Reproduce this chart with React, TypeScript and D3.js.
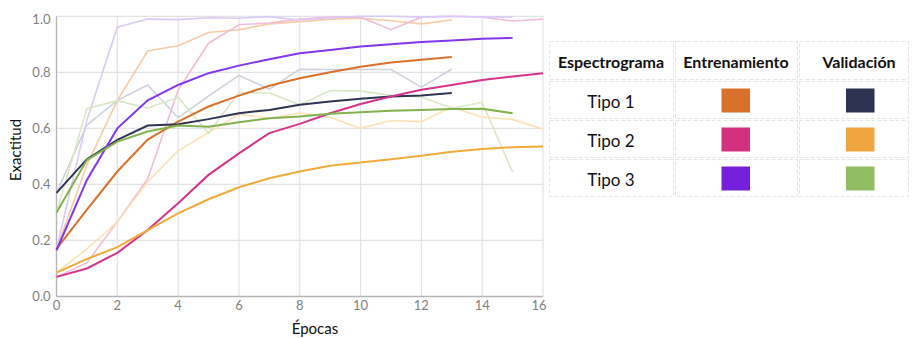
import * as d3 from "d3";

// ─── Data ────────────────────────────────────────────────────────────────

const xTicks = [0, 2, 4, 6, 8, 10, 12, 14, 16];
const yTicks = [0, 0.2, 0.4, 0.6, 0.8, 1.0];

const tipos = ["Tipo 1", "Tipo 2", "Tipo 3"];
const headers = ["Espectrograma", "Entrenamiento", "Validación"];

// smoothed curves
const trainT1 = [0.17, 0.31, 0.446, 0.56, 0.624, 0.678, 0.717, 0.752, 0.779, 0.8, 0.82, 0.835, 0.845, 0.855];
const valT1 = [0.37, 0.49, 0.559, 0.61, 0.615, 0.633, 0.654, 0.666, 0.684, 0.696, 0.706, 0.714, 0.717, 0.726];
const trainT2 = [0.07, 0.1, 0.156, 0.237, 0.333, 0.434, 0.511, 0.583, 0.616, 0.654, 0.687, 0.714, 0.738, 0.755, 0.773, 0.785, 0.797];
const valT2 = [0.085, 0.134, 0.176, 0.237, 0.297, 0.347, 0.39, 0.422, 0.446, 0.467, 0.478, 0.49, 0.502, 0.517, 0.526, 0.533, 0.535];
const trainT3 = [0.165, 0.416, 0.6, 0.7, 0.755, 0.797, 0.824, 0.847, 0.868, 0.88, 0.892, 0.9, 0.908, 0.914, 0.92, 0.923];
const valT3 = [0.3, 0.487, 0.553, 0.589, 0.61, 0.606, 0.622, 0.636, 0.642, 0.652, 0.658, 0.663, 0.666, 0.669, 0.67, 0.654];

// raw (faint) curves
const rawTrainT1 = [0.17, 0.47, 0.7, 0.876, 0.895, 0.942, 0.952, 0.973, 0.981, 0.99, 0.993, 0.984, 0.973, 0.987];
const rawValT1 = [0.37, 0.612, 0.7, 0.755, 0.638, 0.715, 0.789, 0.74, 0.811, 0.81, 0.81, 0.81, 0.747, 0.811];
const rawTrainT2 = [0.07, 0.12, 0.267, 0.42, 0.737, 0.904, 0.97, 0.976, 0.99, 0.997, 0.997, 0.952, 0.997, 1.0, 0.997, 0.983, 0.99];
const rawValT2 = [0.085, 0.17, 0.265, 0.41, 0.52, 0.585, 0.65, 0.636, 0.655, 0.64, 0.6, 0.628, 0.624, 0.676, 0.64, 0.632, 0.598];
const rawTrainT3 = [0.17, 0.63, 0.961, 0.99, 0.988, 0.995, 0.993, 0.999, 0.987, 0.995, 1.0, 1.0, 0.997, 1.0, 0.997, 0.998];
const rawValT3 = [0.3, 0.67, 0.699, 0.672, 0.711, 0.583, 0.728, 0.726, 0.684, 0.735, 0.733, 0.718, 0.712, 0.672, 0.693, 0.444];

const boldSeries = [
  { values: trainT1, color: "#DA702B" },
  { values: valT1, color: "#2E3451" },
  { values: trainT2, color: "#D6338A" },
  { values: valT2, color: "#F2AA3A" },
  { values: trainT3, color: "#8236EE" },
  { values: valT3, color: "#82B24E" },
];
const faintSeries = [
  { values: rawTrainT1, color: "#F7CBA6" },
  { values: rawValT1, color: "#CDD2DF" },
  { values: rawTrainT2, color: "#F1BEDA" },
  { values: rawValT2, color: "#FCE2B4" },
  { values: rawTrainT3, color: "#DACAF8" },
  { values: rawValT3, color: "#D9E8C6" },
];

const swatchTrain = ["#D9702C", "#D3317F", "#7420DA"];
const swatchVal = ["#2D3350", "#EFA63E", "#93BD63"];

// ─── Layout ──────────────────────────────────────────────────────────────

const W = 912;
const H = 338;
const plot = { left: 56.5, right: 543, top: 16.3, bottom: 296.5 };
const FONT = "Lato, 'Open Sans', sans-serif";

export default function App() {
  const x = d3.scaleLinear().domain([0, 16]).range([plot.left, plot.right]);
  const y = d3.scaleLinear().domain([0, 1]).range([plot.bottom, plot.top]);
  const line = d3
    .line<number>()
    .x((_, i) => x(i))
    .y((v) => y(v));

  // legend table geometry
  const colX = [549, 675, 799, 910];
  const rowY = [41, 81, 120, 159, 198];
  const gap = 2;

  return (
    <svg
      width={W}
      height={H}
      style={{ position: "absolute", left: 0, top: 0, background: "#fff" }}
      fontFamily={FONT}
    >
      {/* grid */}
      {xTicks.map((t) => (
        <line key={"gx" + t} x1={x(t)} x2={x(t)} y1={plot.top} y2={plot.bottom} stroke="#e3e3e3" strokeWidth={1.2} />
      ))}
      {yTicks.map((t) => (
        <line key={"gy" + t} x1={plot.left} x2={plot.right} y1={y(t)} y2={y(t)} stroke="#e3e3e3" strokeWidth={1.2} />
      ))}
      {/* axes */}
      <line x1={plot.left} x2={plot.left} y1={plot.top} y2={plot.bottom} stroke="#b5b5b5" strokeWidth={1.3} />
      <line x1={plot.left} x2={plot.right} y1={plot.bottom} y2={plot.bottom} stroke="#b5b5b5" strokeWidth={1.3} />

      {/* tick labels */}
      {yTicks.map((t) => (
        <text key={"ty" + t} x={plot.left - 6} y={y(t) + (t === 1 ? 8 : 4.5)} textAnchor="end" fontSize={13} fill="#7f7f7f">
          {t.toFixed(1)}
        </text>
      ))}
      {xTicks.map((t) => (
        <text key={"tx" + t} x={x(t) - (t === 16 ? 4 : 0)} y={310} textAnchor="middle" fontSize={13} fill="#7f7f7f">
          {t}
        </text>
      ))}

      {/* axis titles */}
      <text x={315} y={334} textAnchor="middle" fontSize={15} fill="#111">
        Épocas
      </text>
      <text transform={`translate(21,150) rotate(-90)`} textAnchor="middle" fontSize={15} fill="#111">
        Exactitud
      </text>

      {/* faint raw curves */}
      {faintSeries.map((s, i) => (
        <path key={"f" + i} d={line(s.values) ?? ""} fill="none" stroke={s.color} strokeWidth={1.6} />
      ))}
      {/* smoothed curves */}
      {boldSeries.map((s, i) => (
        <path key={"b" + i} d={line(s.values) ?? ""} fill="none" stroke={s.color} strokeWidth={2} />
      ))}

      {/* legend table */}
      {rowY.slice(0, -1).map((ry, r) =>
        colX.slice(0, -1).map((cx, c) => (
          <rect
            key={`cell${r}-${c}`}
            x={cx + 0.5}
            y={ry + 0.5}
            width={colX[c + 1] - cx - gap}
            height={rowY[r + 1] - ry - gap}
            fill="none"
            stroke="#e6e6e6"
            strokeDasharray="4 2"
          />
        )),
      )}
      {headers.map((h, c) => (
        <text
          key={h}
          x={c === 2 ? 859 : (colX[c] + colX[c + 1]) / 2 - 1}
          y={68}
          textAnchor="middle"
          fontSize={16}
          fontWeight={700}
          fill="#111"
        >
          {h}
        </text>
      ))}
      {tipos.map((t, r) => (
        <g key={t}>
          <text x={611} y={rowY[r + 1] + 27} textAnchor="middle" fontSize={17} fill="#111">
            {t}
          </text>
          <rect x={721.5} y={rowY[r + 1] + 7.5} width={28.5} height={24} fill={swatchTrain[r]} />
          <rect x={846} y={rowY[r + 1] + 7.5} width={28.5} height={24} fill={swatchVal[r]} />
        </g>
      ))}
    </svg>
  );
}
